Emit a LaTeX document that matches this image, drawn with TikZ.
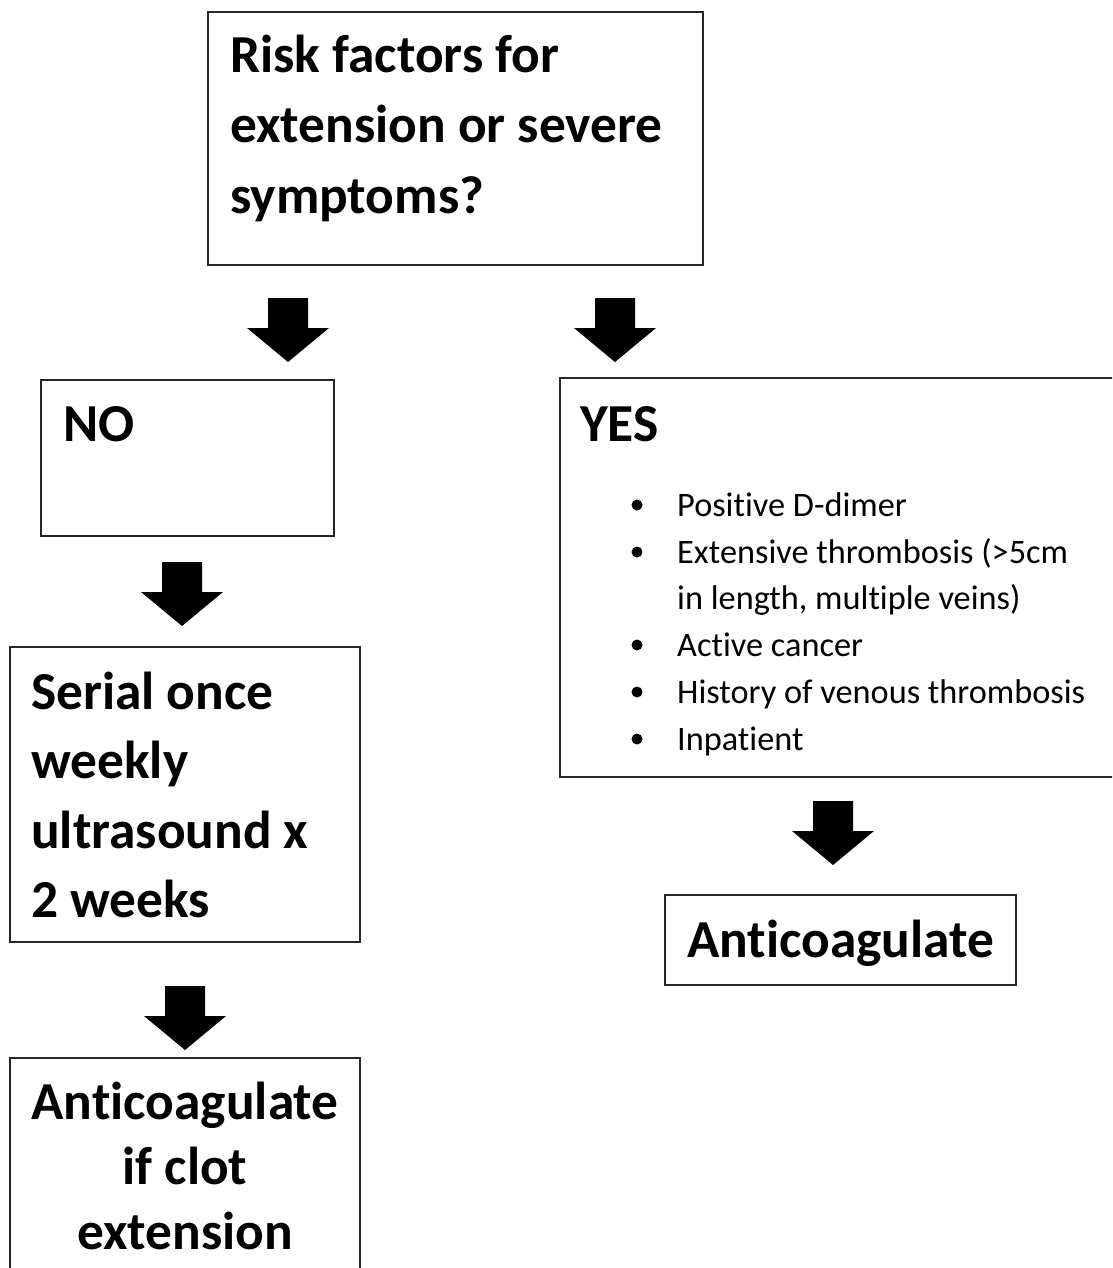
\documentclass[tikz,border=0pt]{standalone}
\usepackage{fontspec}
\setmainfont{Carlito}[RawFeature={-liga;-clig;-dlig}]
\begin{document}
\begin{tikzpicture}[x=1pt,y=-1pt,
  box/.style={draw=black!85, line width=1.2pt, inner sep=0pt, outer sep=0pt, anchor=north west},
  head/.style={font=\fontsize{53.4}{64}\selectfont\bfseries, inner sep=0pt, anchor=base west},
  headc/.style={font=\fontsize{53.4}{64}\selectfont\bfseries, inner sep=0pt, anchor=base},
  body/.style={font=\fontsize{34.3}{40}\selectfont, inner sep=0pt, anchor=base west},
  dot/.style={circle, fill=black, inner sep=0pt, minimum size=11pt},
  blockarrow/.pic={\fill[black] (-20,0) -- (20,0) -- (20,30) -- (41,30) -- (0,64) -- (-41,30) -- (-20,30) -- cycle;}]
\useasboundingbox (0,0) rectangle (1112,1268);
\clip (0,0) rectangle (1112,1268);
% boxes
\node[box, minimum width=495pt, minimum height=253pt] (top) at (208,12) {};
\node[box, minimum width=293pt, minimum height=156pt] (no) at (41,380) {};
\node[box, minimum width=580pt, minimum height=399pt] (yes) at (560,378) {};
\node[box, minimum width=350pt, minimum height=295pt] (serial) at (10,647) {};
\node[box, minimum width=350pt, minimum height=240pt] (antiif) at (10,1058) {};
\node[box, minimum width=351pt, minimum height=90pt] (anti) at (665,895) {};
% texts
\node[head] (t1) at (230,73) {Risk factors for};
\node[head] (t2) at (230,143) {extension or severe};
\node[head] (t3) at (230,213) {symptoms?};
\node[head] (tno) at (63,441) {NO};
\node[head] (tyes) at (580,441) {YES};
\node[body] (y1) at (677,516) {Positive D-dimer};
\node[body] (y2) at (677,563) {Extensive thrombosis (>5cm};
\node[body] (y3) at (677,609) {in length, multiple veins)};
\node[body] (y4) at (677,656) {Active cancer};
\node[body] (y5) at (677,703) {History of venous thrombosis};
\node[body] (y6) at (677,750) {Inpatient};
\node[dot] (d1) at (637,505) {};
\node[dot] (d2) at (637,552) {};
\node[dot] (d4) at (637,645) {};
\node[dot] (d5) at (637,692) {};
\node[dot] (d6) at (637,739) {};
\node[head] (s1) at (31,709) {Serial once};
\node[head] (s2) at (31,778) {weekly};
\node[head] (s3) at (31,848) {ultrasound x};
\node[head] (s4) at (31,917) {2 weeks};
\node[headc] (a1) at (185,1119) {Anticoagulate};
\node[headc] (a2) at (185,1184) {if clot};
\node[headc] (a3) at (185,1249) {extension};
\node[headc] (at) at (840.5,957) {Anticoagulate};
% block arrows
\pic (ar1) at (288,298) {blockarrow};
\pic (ar2) at (615,298) {blockarrow};
\pic (ar3) at (182,562) {blockarrow};
\pic (ar4) at (185,986) {blockarrow};
\pic (ar5) at (833,801) {blockarrow};
\end{tikzpicture}
\end{document}
